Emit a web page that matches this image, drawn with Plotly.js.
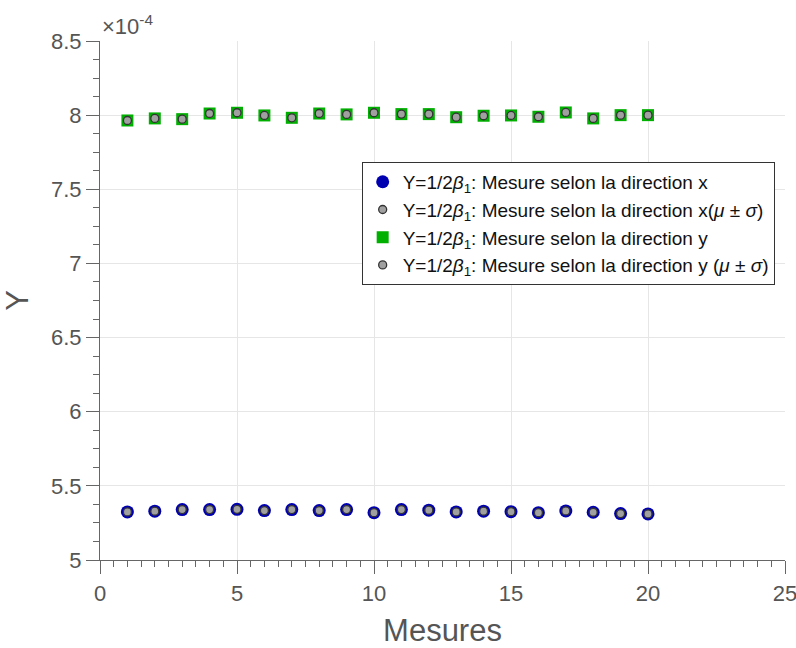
<!DOCTYPE html>
<html><head><meta charset="utf-8">
<script src="https://cdn.plot.ly/plotly-3.0.1.min.js"></script>
<style>html,body{margin:0;padding:0;background:#fff}</style>
</head><body>
<div id="chart" style="width:796px;height:648px"></div>
<script>
// values in units of 1e-4
const mesures = [1,2,3,4,5,6,7,8,9,10,11,12,13,14,15,16,17,18,19,20];
const yDirX = [5.324,5.329,5.340,5.340,5.342,5.333,5.340,5.333,5.340,5.319,5.340,5.336,5.324,5.329,5.326,5.319,5.331,5.322,5.313,5.311];
const yDirY = [7.964,7.978,7.973,8.011,8.016,7.998,7.982,8.011,8.005,8.016,8.007,8.007,7.986,7.996,7.998,7.989,8.018,7.978,8.000,8.000];
const legendNames = [
  "Y=1/2<i>β</i><sub>1</sub>: Mesure selon la direction x",
  "Y=1/2<i>β</i><sub>1</sub>: Mesure selon la direction x(<i>μ</i> ± <i>σ</i>)",
  "Y=1/2<i>β</i><sub>1</sub>: Mesure selon la direction y",
  "Y=1/2<i>β</i><sub>1</sub>: Mesure selon la direction y (<i>μ</i> ± <i>σ</i>)"
];
const xTicks = [0,5,10,15,20,25];
const yTicks = [5,5.5,6,6.5,7,7.5,8,8.5];

const gray = {color:'#a0a0a0', size:8, symbol:'circle', line:{color:'#333333', width:1.3}};
const traces = [
  {x:mesures, y:yDirX, mode:'markers', type:'scatter', name:legendNames[0],
   marker:{color:'#0000b0', size:13, symbol:'circle', line:{width:0}}},
  {x:mesures, y:yDirX, mode:'markers', type:'scatter', name:legendNames[1], marker:gray},
  {x:mesures, y:yDirY, mode:'markers', type:'scatter', name:legendNames[2],
   marker:{color:'#00b000', size:12, symbol:'square', line:{width:0}}},
  {x:mesures, y:yDirY, mode:'markers', type:'scatter', name:legendNames[3], marker:gray}
];
const FONT = 'Liberation Sans, Arial, sans-serif';
const tickFont = {family:FONT, size:22, color:'#555555'};
const layout = {
  width:796, height:648,
  margin:{l:100, r:11, t:41, b:88},
  paper_bgcolor:'#fff', plot_bgcolor:'#fff',
  showlegend:true,
  legend:{x:0.382, y:0.767, xanchor:'left', yanchor:'top', bgcolor:'#fff',
          bordercolor:'#333', borderwidth:1,
          font:{family:FONT, size:19, color:'#111'},
          tracegroupgap:0, itemsizing:'trace'},
  xaxis:{range:[0,25], tickvals:xTicks, ticktext:xTicks.map(String), showline:true, linecolor:'#666', linewidth:1.2,
         ticks:'outside', ticklen:13, tickcolor:'#666', tickwidth:1.2, tickfont:tickFont, ticklabeloverflow:'allow',
         showgrid:true, gridcolor:'#e6e6e6', zeroline:false, mirror:false,
         minor:{dtick:0.5, ticks:'outside', ticklen:6, tickcolor:'#666', showgrid:false},
         title:{text:'Mesures', font:{family:FONT, size:31, color:'#555'}, standoff:14}},
  yaxis:{range:[5,8.5], tickvals:yTicks, ticktext:yTicks.map(String), showline:true, linecolor:'#666', linewidth:1.2,
         ticks:'outside', ticklen:13, tickcolor:'#666', tickwidth:1.2, tickfont:tickFont,
         showgrid:true, gridcolor:'#e6e6e6', zeroline:false,
         minor:{dtick:0.125, ticks:'outside', ticklen:6, tickcolor:'#666', showgrid:false},
         title:{text:'Y', font:{family:FONT, size:31, color:'#555'}, standoff:14}},
  annotations:[{xref:'paper', yref:'paper', x:0, y:1, xanchor:'left', yanchor:'bottom', showarrow:false,
                text:'×10<sup>-4</sup>', font:{family:FONT, size:22, color:'#555'}}]
};
Plotly.newPlot('chart', traces, layout, {displayModeBar:false});
</script>
</body></html>
